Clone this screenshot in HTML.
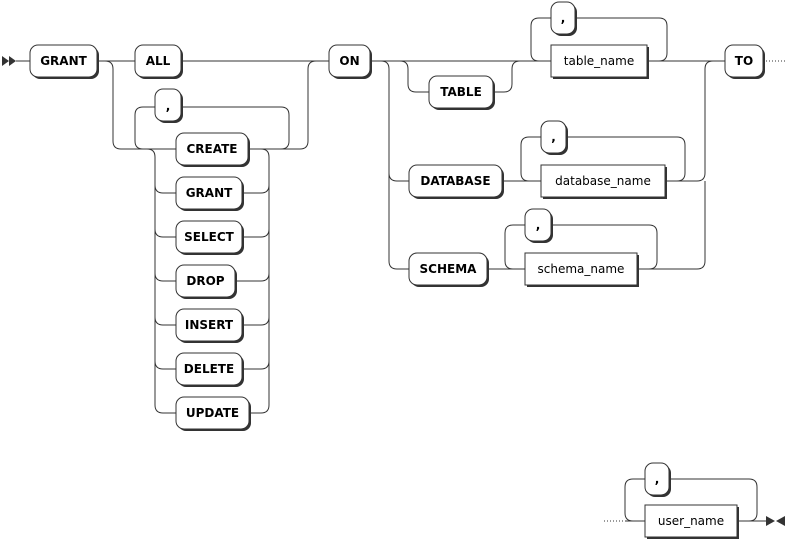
<!DOCTYPE html>
<html><head><style>
body{margin:0;background:#fff}
svg{display:block}
text{font-family:"DejaVu Sans","Liberation Sans",sans-serif;font-size:12px;fill:#000}
.k{font-weight:bold}
path.l{fill:none;stroke:#333;stroke-width:1}
</style></head><body>
<svg width="787" height="543" viewBox="0 0 787 543" xmlns="http://www.w3.org/2000/svg">
<defs>
<g id="d"></g>
</defs>
<!-- start arrows -->
<polygon points="2,56 9,61 2,66" fill="#333"/><polygon points="9,56 16,61 9,66" fill="#333"/>
<path class="l" d="M16 61H30 M97 61H135 M181 61H329 M370 61H551 M647 61H725"/>
<path class="l" d="M763 61H787" stroke-dasharray="1,2"/>
<!-- GRANT alt -->
<path class="l" d="M105 61Q113 61 113 69V141Q113 149 121 149H176 M143 149Q135 149 135 141V115Q135 107 143 107H155 M181 107H281Q289 107 289 115V141Q289 149 281 149 M248 149H300Q308 149 308 141V69Q308 61 316 61"/>
<path class="l" d="M147 149Q155 149 155 157V405Q155 413 163 413H176 M155 185Q155 193 163 193H176 M155 229Q155 237 163 237H176 M155 273Q155 281 163 281H176 M155 317Q155 325 163 325H176 M155 361Q155 369 163 369H176"/>
<path class="l" d="M261 149Q269 149 269 157V405Q269 413 261 413H249 M242 193H261Q269 193 269 185 M242 237H261Q269 237 269 229 M235 281H261Q269 281 269 273 M242 325H261Q269 325 269 317 M242 369H261Q269 369 269 361"/>
<!-- ON alternatives -->
<path class="l" d="M381 61Q389 61 389 69V261Q389 269 397 269H409 M389 173Q389 181 397 181H409"/>
<path class="l" d="M400 61Q408 61 408 69V84Q408 92 416 92H429 M493 92H504Q512 92 512 84V69Q512 61 520 61"/>
<path class="l" d="M551 61H539Q531 61 531 53V26Q531 18 539 18H551 M575 18H659Q667 18 667 26V53Q667 61 659 61"/>
<path class="l" d="M502 181H541 M541 181H529Q521 181 521 173V145Q521 137 529 137H541 M566 137H677Q685 137 685 145V173Q685 181 677 181H665 M665 181H697Q705 181 705 173V69Q705 61 713 61"/>
<path class="l" d="M487 269H525 M525 269H513Q505 269 505 261V233Q505 225 513 225H525 M551 225H649Q657 225 657 233V261Q657 269 649 269H637 M637 269H697Q705 269 705 261V181"/>
<!-- bottom -->
<path class="l" d="M604 521H625" stroke-dasharray="1,2"/>
<path class="l" d="M625 521H645 M645 521H633Q625 521 625 513V487Q625 479 633 479H645 M669 479H749Q757 479 757 487V513Q757 521 749 521H737 M737 521H770"/>
<polygon points="766,516 775,521 766,526" fill="#333"/><polygon points="785,516 776,521 785,526" fill="#333"/>
<!-- terminals -->
<g>
<rect x="32" y="47" width="67" height="32" rx="8" fill="#333"/><rect x="30" y="45" width="67" height="32" rx="8" fill="#fff" stroke="#333"/><text class="k" x="63.5" y="65" text-anchor="middle">GRANT</text>
<rect x="137" y="47" width="46" height="32" rx="8" fill="#333"/><rect x="135" y="45" width="46" height="32" rx="8" fill="#fff" stroke="#333"/><text class="k" x="158" y="65" text-anchor="middle">ALL</text>
<rect x="331" y="47" width="41" height="32" rx="8" fill="#333"/><rect x="329" y="45" width="41" height="32" rx="8" fill="#fff" stroke="#333"/><text class="k" x="349.5" y="65" text-anchor="middle">ON</text>
<rect x="727" y="47" width="38" height="32" rx="8" fill="#333"/><rect x="725" y="45" width="38" height="32" rx="8" fill="#fff" stroke="#333"/><text class="k" x="744" y="65" text-anchor="middle">TO</text>
<rect x="157" y="91" width="26" height="32" rx="8" fill="#333"/><rect x="155" y="89" width="26" height="32" rx="8" fill="#fff" stroke="#333"/><text class="k" x="168" y="110" text-anchor="middle">,</text>
<rect x="178" y="135" width="72" height="32" rx="8" fill="#333"/><rect x="176" y="133" width="72" height="32" rx="8" fill="#fff" stroke="#333"/><text class="k" x="212" y="153" text-anchor="middle">CREATE</text>
<rect x="178" y="179" width="66" height="32" rx="8" fill="#333"/><rect x="176" y="177" width="66" height="32" rx="8" fill="#fff" stroke="#333"/><text class="k" x="209" y="197" text-anchor="middle">GRANT</text>
<rect x="178" y="223" width="66" height="32" rx="8" fill="#333"/><rect x="176" y="221" width="66" height="32" rx="8" fill="#fff" stroke="#333"/><text class="k" x="209" y="241" text-anchor="middle">SELECT</text>
<rect x="178" y="267" width="59" height="32" rx="8" fill="#333"/><rect x="176" y="265" width="59" height="32" rx="8" fill="#fff" stroke="#333"/><text class="k" x="205.5" y="285" text-anchor="middle">DROP</text>
<rect x="178" y="311" width="66" height="32" rx="8" fill="#333"/><rect x="176" y="309" width="66" height="32" rx="8" fill="#fff" stroke="#333"/><text class="k" x="209" y="329" text-anchor="middle">INSERT</text>
<rect x="178" y="355" width="66" height="32" rx="8" fill="#333"/><rect x="176" y="353" width="66" height="32" rx="8" fill="#fff" stroke="#333"/><text class="k" x="209" y="373" text-anchor="middle">DELETE</text>
<rect x="178" y="399" width="73" height="32" rx="8" fill="#333"/><rect x="176" y="397" width="73" height="32" rx="8" fill="#fff" stroke="#333"/><text class="k" x="212.5" y="417" text-anchor="middle">UPDATE</text>
<rect x="431" y="78" width="64" height="32" rx="8" fill="#333"/><rect x="429" y="76" width="64" height="32" rx="8" fill="#fff" stroke="#333"/><text class="k" x="461" y="96" text-anchor="middle">TABLE</text>
<rect x="411" y="167" width="93" height="32" rx="8" fill="#333"/><rect x="409" y="165" width="93" height="32" rx="8" fill="#fff" stroke="#333"/><text class="k" x="455.5" y="185" text-anchor="middle">DATABASE</text>
<rect x="411" y="255" width="78" height="32" rx="8" fill="#333"/><rect x="409" y="253" width="78" height="32" rx="8" fill="#fff" stroke="#333"/><text class="k" x="448" y="273" text-anchor="middle">SCHEMA</text>
<rect x="553" y="4" width="24" height="32" rx="8" fill="#333"/><rect x="551" y="2" width="24" height="32" rx="8" fill="#fff" stroke="#333"/><text class="k" x="563" y="22" text-anchor="middle">,</text>
<rect x="543" y="123" width="25" height="32" rx="8" fill="#333"/><rect x="541" y="121" width="25" height="32" rx="8" fill="#fff" stroke="#333"/><text class="k" x="553.5" y="141" text-anchor="middle">,</text>
<rect x="527" y="211" width="26" height="32" rx="8" fill="#333"/><rect x="525" y="209" width="26" height="32" rx="8" fill="#fff" stroke="#333"/><text class="k" x="538" y="229" text-anchor="middle">,</text>
<rect x="647" y="465" width="24" height="32" rx="8" fill="#333"/><rect x="645" y="463" width="24" height="32" rx="8" fill="#fff" stroke="#333"/><text class="k" x="657" y="483" text-anchor="middle">,</text>
</g>
<!-- nonterminals -->
<rect x="553" y="47" width="96" height="32" fill="#333"/><rect x="551" y="45" width="96" height="32" fill="#fff" stroke="#333"/><text x="599" y="65" text-anchor="middle">table_name</text>
<rect x="543" y="167" width="124" height="32" fill="#333"/><rect x="541" y="165" width="124" height="32" fill="#fff" stroke="#333"/><text x="603" y="185" text-anchor="middle">database_name</text>
<rect x="527" y="255" width="112" height="32" fill="#333"/><rect x="525" y="253" width="112" height="32" fill="#fff" stroke="#333"/><text x="581" y="273" text-anchor="middle">schema_name</text>
<rect x="647" y="507" width="92" height="32" fill="#333"/><rect x="645" y="505" width="92" height="32" fill="#fff" stroke="#333"/><text x="691" y="525" text-anchor="middle">user_name</text>
</svg>
</body></html>
